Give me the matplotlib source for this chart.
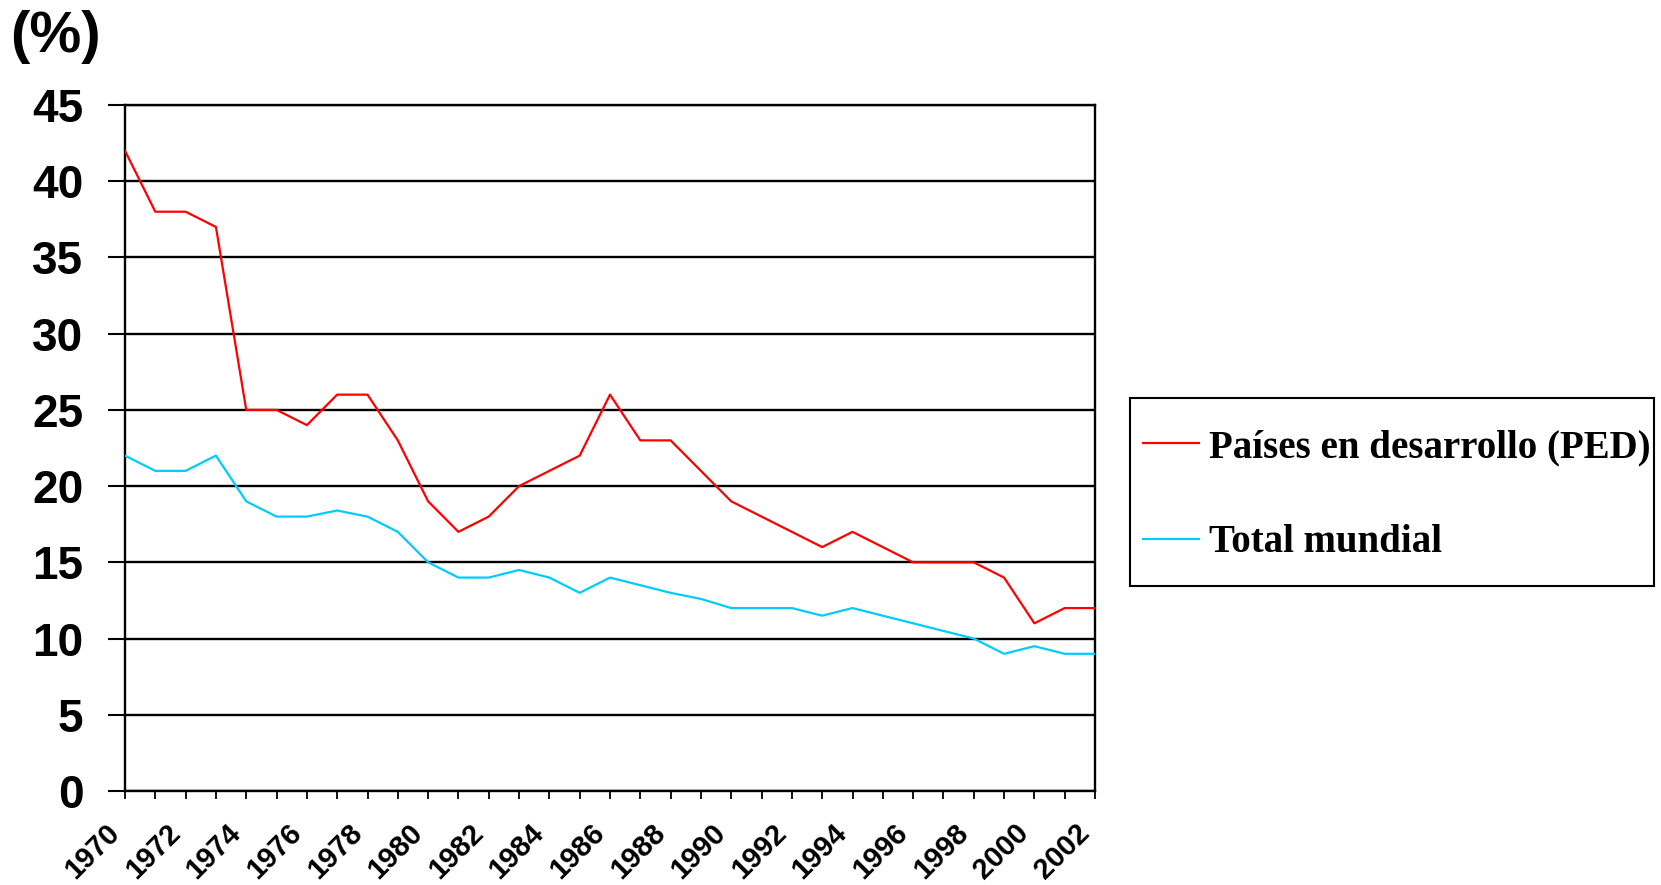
import matplotlib
matplotlib.use("Agg")
import matplotlib.pyplot as plt
from matplotlib.patches import Rectangle

years = list(range(1970, 2003))
ped = [42, 38, 38, 37, 25, 25, 24, 26, 26, 23, 19, 17, 18, 20, 21, 22, 26, 23, 23, 21,
       19, 18, 17, 16, 17, 16, 15, 15, 15, 14, 11, 12, 12]
mundial = [22, 21, 21, 22, 19, 18, 18, 18.4, 18, 17, 15, 14, 14, 14.5, 14, 13, 14, 13.5, 13, 12.6,
           12, 12, 12, 11.5, 12, 11.5, 11, 10.5, 10, 9, 9.5, 9, 9]
labels = ["Países en desarrollo (PED)", "Total mundial"]
yticks = list(range(0, 50, 5))

W, H = 1661, 885
fig = plt.figure(figsize=(W / 100, H / 100), dpi=100)
ax = fig.add_axes([125 / W, 1 - 791 / H, (1095 - 125) / W, (791 - 105) / H])

ax.plot(years, ped, color="#FF0000", lw=1.6, label=labels[0], zorder=3)
ax.plot(years, mundial, color="#00CCFF", lw=1.6, label=labels[1], zorder=3)

ax.set_xlim(1970, 2002)
ax.set_ylim(0, 45)
ax.set_yticks(yticks)
ax.set_yticklabels([str(v) for v in yticks], fontfamily="Liberation Sans",
                   fontweight="bold", fontsize=33)
ax.yaxis.grid(True, color="black", lw=1.7)
ax.set_axisbelow(True)

ax.set_xticks(years)
ax.set_xticklabels([str(y) if (y - 1970) % 2 == 0 else "" for y in years],
                   fontfamily="Liberation Sans", fontweight="bold", fontsize=21,
                   rotation=45, ha="right", va="bottom", rotation_mode="anchor")

ax.tick_params(axis="y", direction="out", length=12, width=1.5, pad=18, colors="black")
ax.tick_params(axis="x", direction="out", length=6, width=1.3, pad=28, colors="black")
for s in ax.spines.values():
    s.set_color("black")
    s.set_linewidth(1.7)

fig.text(55 / W, 1 - 37 / H, "(%)", fontfamily="Liberation Sans", fontweight="bold",
         fontsize=42, ha="center", va="center")

# legend frame box
fig.add_artist(Rectangle((1130 / W, 1 - 586 / H), 524 / W, 188 / H,
                         transform=fig.transFigure, fill=False, ec="black", lw=1.5))
leg = fig.legend(loc="upper left", bbox_to_anchor=(1143 / W, 1 - 429 / H),
                 bbox_transform=fig.transFigure, borderaxespad=0, borderpad=0,
                 prop={"family": "Liberation Serif", "weight": "bold", "size": 28},
                 handlelength=1.45, handletextpad=0.25,
                 labelspacing=1.5, frameon=False)
for l in leg.get_lines():
    l.set_linewidth(1.6)

fig.savefig("out.png", dpi=100, facecolor="white")
